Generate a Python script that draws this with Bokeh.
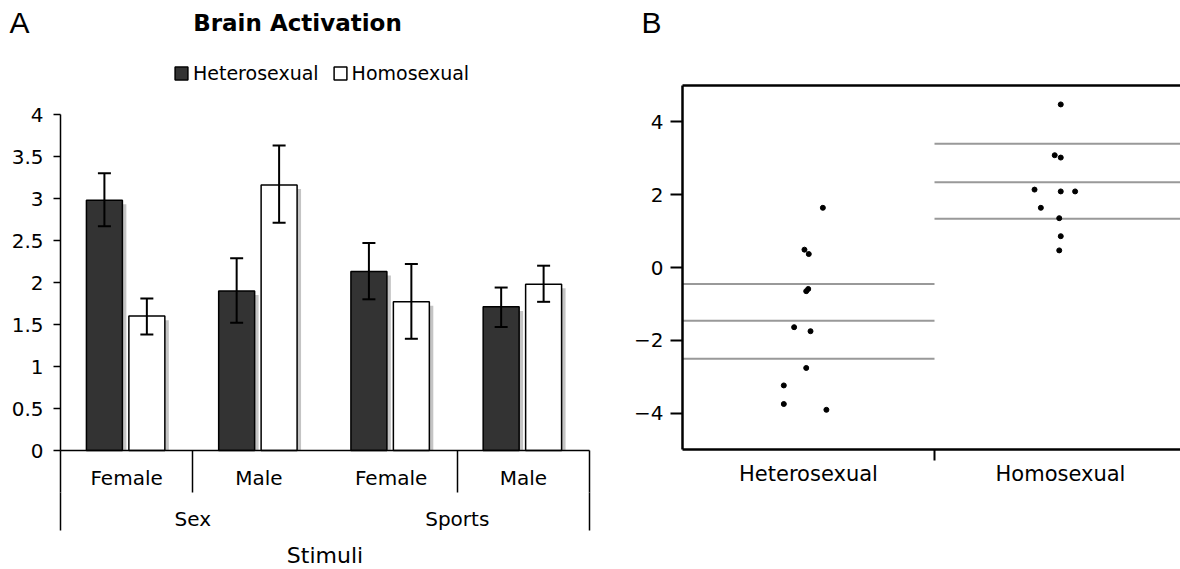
from bokeh.plotting import figure
from bokeh.models import (Range1d, LinearAxis, FixedTicker, ColumnDataSource, Whisker,
                          TeeHead, Legend, LegendItem, Label, NumeralTickFormatter)
from bokeh.layouts import row
from bokeh.embed import file_html
from bokeh.resources import INLINE

# ---------------- Panel A data ----------------
stim_groups = ["Sex", "Sports"]
stim_items = ["Female", "Male", "Female", "Male"]
het_mean = [2.98, 1.90, 2.13, 1.71]
het_lower = [2.67, 1.52, 1.80, 1.47]
het_upper = [3.30, 2.29, 2.47, 1.94]
homo_mean = [1.60, 3.16, 1.77, 1.98]
homo_lower = [1.38, 2.71, 1.33, 1.77]
homo_upper = [1.81, 3.63, 2.22, 2.20]
y_ticks_a = [0, 0.5, 1, 1.5, 2, 2.5, 3, 3.5, 4]
series_names = ["Heterosexual", "Homosexual"]

# ---------------- Panel B data ----------------
groups_b = ["Heterosexual", "Homosexual"]
het_y = [1.64, 0.49, 0.37, -0.59, -0.65, -1.64, -1.75, -2.76, -3.24, -3.75, -3.91]
het_jit = [0.057, -0.016, 0.001, -0.001, -0.009, -0.057, 0.008, -0.009, -0.098, -0.098, 0.071]
homo_y = [4.48, 3.085, 3.02, 2.14, 2.09, 2.09, 1.64, 1.355, 0.86, 0.47]
homo_jit = [0.001, -0.023, 0.001, -0.103, 0.001, 0.058, -0.078, -0.005, 0.001, -0.005]
het_lines = [-0.45, -1.46, -2.51]
homo_lines = [3.40, 2.34, 1.34]
y_ticks_b = [-4, -2, 0, 2, 4]
y_lim_b = (-5, 5)

FONT_A = "DejaVu Sans"
FONT_B = "DejaVu Sans"
H = 569          # the plot frames fill the whole canvas; axes are pinned in data space

def no_borders():
    return dict(min_border_left=0, min_border_right=0, min_border_top=0, min_border_bottom=0)

# ================= Panel A =================
n = len(stim_items)
WA = 620
A_LEFT, A_CAT = 60, 132.25           # y-axis x position (px) and px per category
A_Y0, A_UNIT = 450, 84.0              # pixel row of value 0, px per unit
xa_start = -A_LEFT / A_CAT
xa_end = (WA - A_LEFT) / A_CAT
ya_start = -(H - A_Y0) / A_UNIT
ya_end = A_Y0 / A_UNIT
pA = figure(width=WA, height=H, output_backend="svg", toolbar_location=None, title=None,
            x_range=Range1d(xa_start, xa_end), y_range=Range1d(ya_start, ya_end),
            x_axis_location=None, y_axis_location=None, **no_borders())
pA.outline_line_color = None
pA.grid.visible = False
pA.background_fill_color = "white"
pA.border_fill_color = "white"

centers = [i + 0.5 for i in range(n)]
off_het, off_homo, bw = -0.168, 0.153, 0.272
sdx, sdy = 0.030, 0.048
x_het = [c + off_het for c in centers]
x_homo = [c + off_homo for c in centers]

src_het = ColumnDataSource(dict(x=x_het, top=het_mean, lower=het_lower, upper=het_upper,
                                xs=[x + sdx for x in x_het], ts=[t - sdy for t in het_mean]))
src_homo = ColumnDataSource(dict(x=x_homo, top=homo_mean, lower=homo_lower, upper=homo_upper,
                                 xs=[x + sdx for x in x_homo], ts=[t - sdy for t in homo_mean]))

# shadows
for s in (src_het, src_homo):
    pA.vbar(x="xs", top="ts", bottom=0, width=bw, source=s, fill_color="#c4c4c4", line_color=None)
r_het = pA.vbar(x="x", top="top", bottom=0, width=bw, source=src_het,
                fill_color="#333333", line_color="black", line_width=1.5)
r_homo = pA.vbar(x="x", top="top", bottom=0, width=bw, source=src_homo,
                 fill_color="white", line_color="black", line_width=1.5)
for s in (src_het, src_homo):
    pA.add_layout(Whisker(source=s, base="x", lower="lower", upper="upper", dimension="height",
                          level="annotation", line_width=2, line_color="black",
                          upper_head=TeeHead(size=13, line_width=2, line_color="black"),
                          lower_head=TeeHead(size=13, line_width=2, line_color="black")))

# y axis
ya = LinearAxis(fixed_location=0, bounds=(0, 4),
                ticker=FixedTicker(ticks=y_ticks_a, minor_ticks=[]),
                formatter=NumeralTickFormatter(format="0.[0]"),
                major_tick_out=7, major_tick_in=0, major_label_standoff=10,
                axis_line_width=1.5, major_tick_line_width=1.5,
                major_label_text_font=FONT_A, major_label_text_font_size="20px",
                major_label_text_color="black")
pA.add_layout(ya, "left")

# x axis level 1 (Female / Male) with category separators as minor ticks
xa = LinearAxis(fixed_location=0, bounds=(0, n),
                ticker=FixedTicker(ticks=centers, minor_ticks=[0, 1, 3, 4]),
                major_label_overrides={c: lab for c, lab in zip(centers, stim_items)},
                major_tick_out=0, major_tick_in=0, minor_tick_out=42, minor_tick_in=0,
                minor_tick_line_width=1.5, minor_tick_line_color="black",
                axis_line_width=1.5, major_label_standoff=-27,
                major_label_text_font=FONT_A, major_label_text_font_size="20px",
                major_label_text_color="black")
pA.add_layout(xa, "below")

# x axis level 2 (Sex / Sports) + axis title, pinned just below the separators
gcent = [1, 3]
xa2 = LinearAxis(fixed_location=-42 / A_UNIT, bounds=(0, n),
                 ticker=FixedTicker(ticks=gcent, minor_ticks=[0, n]),
                 major_label_overrides={g: lab for g, lab in zip(gcent, stim_groups)},
                 axis_line_color=None, major_tick_out=0, major_tick_in=0,
                 minor_tick_out=38, minor_tick_in=0, minor_tick_line_width=1.5,
                 minor_tick_line_color="black",
                 major_label_standoff=-24, major_label_text_font=FONT_A,
                 major_label_text_font_size="20px", major_label_text_color="black",
                 axis_label="Stimuli", axis_label_standoff=9, axis_label_text_font=FONT_A,
                 axis_label_text_font_size="22px", axis_label_text_font_style="normal",
                 axis_label_text_color="black")
pA.add_layout(xa2, "below")

legend = Legend(items=[LegendItem(label=series_names[0], renderers=[r_het]),
                       LegendItem(label=series_names[1], renderers=[r_homo])],
                location=(173, 485), orientation="horizontal", glyph_width=16, glyph_height=16,
                label_standoff=4, spacing=13, padding=0, margin=0, border_line_color=None,
                background_fill_alpha=0, label_text_font=FONT_A, label_text_font_size="19px",
                label_text_color="black")
pA.add_layout(legend)

pA.add_layout(Label(x=297, y=547, x_units="screen", y_units="screen", text="Brain Activation",
                    text_align="center", text_baseline="alphabetic", text_font=FONT_A,
                    text_font_size="23px", text_font_style="bold", text_color="black"))
pA.add_layout(Label(x=9, y=547, x_units="screen", y_units="screen", text="A",
                    text_align="left", text_baseline="alphabetic", text_font="Liberation Sans",
                    text_font_size="30px", text_color="black"))

# ================= Panel B =================
WB = 560
B_LEFT, B_CAT = 62, 252
B_TOP_PX, B_BOT_PX = 85, 449
px_per_unit = (B_BOT_PX - B_TOP_PX) / (y_lim_b[1] - y_lim_b[0])
yb_end = y_lim_b[1] + B_TOP_PX / px_per_unit
yb_start = y_lim_b[0] - (H - B_BOT_PX) / px_per_unit
xb_start = -B_LEFT / B_CAT
xb_end = (WB - B_LEFT) / B_CAT
pB = figure(width=WB, height=H, output_backend="svg", toolbar_location=None, title=None,
            x_range=Range1d(xb_start, xb_end), y_range=Range1d(yb_start, yb_end),
            x_axis_location=None, y_axis_location=None, **no_borders())
pB.outline_line_color = None
pB.grid.visible = False
pB.background_fill_color = "white"
pB.border_fill_color = "white"

# group reference lines
for gi, vals in enumerate((het_lines, homo_lines)):
    pB.segment(x0=[gi] * len(vals), x1=[gi + 1] * len(vals), y0=vals, y1=vals,
               line_color="#999999", line_width=2)

pB.scatter(x=[0.5 + j for j in het_jit], y=het_y, size=5, marker="circle",
           fill_color="black", line_color="black")
pB.scatter(x=[1.5 + j for j in homo_jit], y=homo_y, size=5, marker="circle",
           fill_color="black", line_color="black")

# top border of the box
pB.segment(x0=[0], x1=[xb_end], y0=[y_lim_b[1]], y1=[y_lim_b[1]], line_color="black", line_width=2.5)

yb = LinearAxis(fixed_location=0, bounds=y_lim_b,
                ticker=FixedTicker(ticks=y_ticks_b, minor_ticks=[]),
                major_tick_out=12, major_tick_in=0, major_tick_line_width=2,
                axis_line_width=2.5, major_label_standoff=7,
                major_label_text_font=FONT_B, major_label_text_font_size="20px",
                major_label_text_color="black")
pB.add_layout(yb, "left")

bcent = [0.5, 1.5]
xb = LinearAxis(fixed_location=y_lim_b[0], bounds=(0, xb_end),
                ticker=FixedTicker(ticks=bcent, minor_ticks=[1]),
                major_label_overrides={c: lab for c, lab in zip(bcent, groups_b)},
                major_tick_out=0, major_tick_in=0, minor_tick_out=11, minor_tick_in=0,
                minor_tick_line_width=2, minor_tick_line_color="black",
                axis_line_width=2.5, major_label_standoff=1,
                major_label_text_font=FONT_B, major_label_text_font_size="21px",
                major_label_text_color="black")
pB.add_layout(xb, "below")

pB.add_layout(Label(x=21, y=547, x_units="screen", y_units="screen", text="B",
                    text_align="left", text_baseline="alphabetic", text_font="Liberation Sans",
                    text_font_size="30px", text_color="black"))

layout = row(pA, pB, spacing=0)
open("out.html", "w").write(file_html(layout, INLINE))
